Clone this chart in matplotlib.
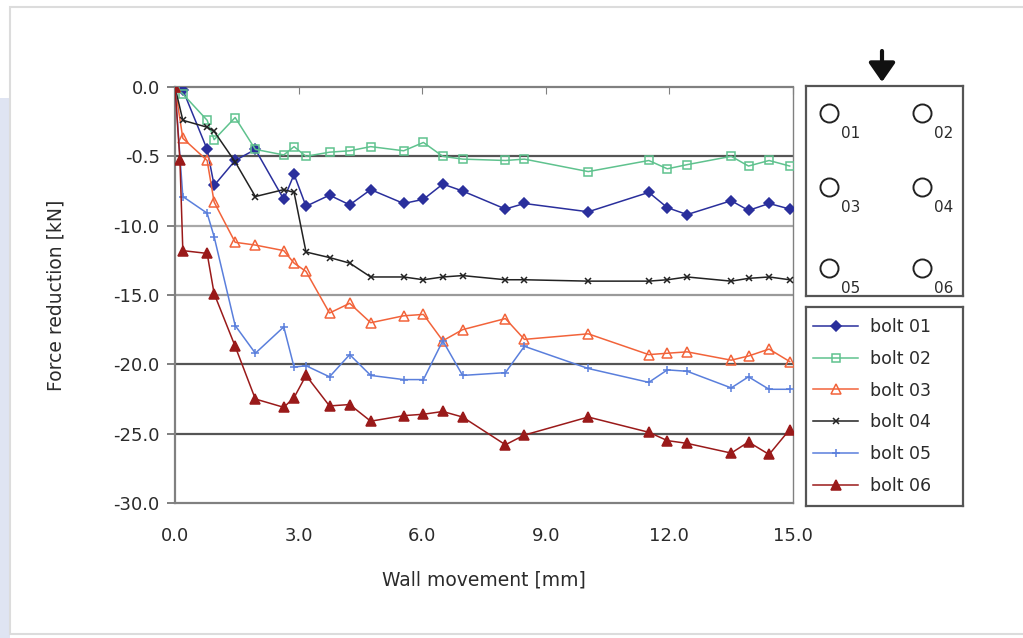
import matplotlib
matplotlib.use("Agg")
import matplotlib.pyplot as plt
from matplotlib.patches import Rectangle, FancyArrowPatch

# wall movement [mm] - common measuring positions
x_common = [0, 0.19, 0.78, 0.95, 1.46, 1.95, 2.64, 2.89, 3.18, 3.75, 4.24, 4.75, 5.55,
            6.03, 6.5, 6.98, 8.02, 8.48, 10.03, 11.5, 11.95, 12.43, 13.5, 13.92, 14.42, 14.92]
x_bolt06 = [0, 0.12] + x_common[1:]

bolt01 = [0, -0.2, -4.5, -7.1, -5.3, -4.5, -8.1, -6.3, -8.6, -7.8, -8.5, -7.4, -8.4,
          -8.1, -7.0, -7.5, -8.8, -8.4, -9.0, -7.6, -8.7, -9.2, -8.2, -8.9, -8.4, -8.8]
bolt02 = [0, -0.5, -2.4, -3.8, -2.2, -4.5, -4.9, -4.3, -5.0, -4.7, -4.6, -4.3, -4.6,
          -4.0, -5.0, -5.2, -5.3, -5.2, -6.1, -5.3, -5.9, -5.6, -5.0, -5.7, -5.3, -5.7]
bolt03 = [0, -3.7, -5.3, -8.3, -11.2, -11.4, -11.8, -12.7, -13.3, -16.3, -15.6, -17.0, -16.5,
          -16.4, -18.3, -17.5, -16.7, -18.2, -17.8, -19.3, -19.2, -19.1, -19.7, -19.4, -18.9, -19.8]
bolt04 = [0, -2.4, -2.9, -3.2, -5.4, -7.9, -7.4, -7.6, -11.9, -12.3, -12.7, -13.7, -13.7,
          -13.9, -13.7, -13.6, -13.9, -13.9, -14.0, -14.0, -13.9, -13.7, -14.0, -13.8, -13.7, -13.9]
bolt05 = [0, -7.9, -9.1, -10.8, -17.2, -19.2, -17.3, -20.2, -20.1, -20.9, -19.3, -20.8, -21.1,
          -21.1, -18.3, -20.8, -20.6, -18.7, -20.3, -21.3, -20.4, -20.5, -21.7, -20.9, -21.8, -21.8]
bolt06 = [0, -5.3, -11.8, -12.0, -14.9, -18.7, -22.5, -23.1, -22.4, -20.8, -23.0, -22.9, -24.1,
          -23.7, -23.6, -23.4, -23.8, -25.8, -25.1, -23.8, -24.9, -25.5, -25.7, -26.4, -25.6, -26.5, -24.7]

x_ticks = [0, 3, 6, 9, 12, 15]
x_ticklabels = ["0.0", "3.0", "6.0", "9.0", "12.0", "15.0"]
y_ticks = [0, -5, -10, -15, -20, -25, -30]
y_ticklabels = ["0.0", "-0.5", "-10.0", "-15.0", "-20.0", "-25.0", "-30.0"]
bolt_ids = ["01", "02", "03", "04", "05", "06"]

txt = "#2b2b2b"
axc = "#808080"
grid_colors = ["#555555", "#a8a8a8", "#9a9a9a", "#555555", "#555555"]

fig = plt.figure(figsize=(10.23, 6.38), dpi=100)
fig.patch.set_facecolor("white")

# page frame (drawn behind everything)
fig.patches.append(Rectangle((0, 0), 10 / 1023, 540 / 638, transform=fig.transFigure,
                             facecolor="#dfe4f2", edgecolor="none", zorder=-5))
fig.patches.append(Rectangle((10 / 1023, 4 / 638), 1.0, 627 / 638, transform=fig.transFigure,
                             facecolor="white", edgecolor="#dcdcdc", lw=1.5, zorder=-4))

ax = fig.add_axes([175 / 1023, 135 / 638, 618 / 1023, 416 / 638])
ax.set_facecolor("white")

series = [
    (x_common, bolt01, dict(color="#2a2f9c", marker="D", ms=5.5, mfc="#2a2f9c")),
    (x_common, bolt02, dict(color="#5fc28e", marker="s", ms=6, mfc="none")),
    (x_common, bolt03, dict(color="#f2633a", marker="^", ms=7, mfc="none")),
    (x_common, bolt04, dict(color="#222222", marker="x", ms=4)),
    (x_common, bolt05, dict(color="#5a7fdc", marker="+", ms=6)),
    (x_bolt06, bolt06, dict(color="#9a1a1a", marker="^", ms=7, mfc="#9a1a1a")),
]
handles = []
for (xs, ys, st), bid in zip(series, bolt_ids):
    h, = ax.plot(xs, ys, lw=1.1, mew=1.1, label="bolt " + bid, zorder=3, **st)
    handles.append(h)

for yv, gc in zip(y_ticks[1:-1], grid_colors):
    ax.axhline(yv, color=gc, lw=1.6, zorder=1)

ax.set_xlim(0, 15)
ax.set_ylim(-30, 0)
ax.set_xticks(x_ticks)
ax.set_xticklabels(x_ticklabels)
ax.set_yticks(y_ticks)
ax.set_yticklabels(y_ticklabels)
for s in ax.spines.values():
    s.set_color(axc)
    s.set_linewidth(1.6)
ax.spines["right"].set_linewidth(1.0)
ax.tick_params(axis="x", top=True, bottom=False, direction="in", length=5, color=axc,
               pad=17, labelsize=13, labelcolor=txt)
ax.tick_params(axis="y", direction="out", length=6, color=axc, width=1.4,
               pad=5, labelsize=13, labelcolor=txt)
ax.set_xlabel("Wall movement [mm]", fontsize=13.5, color=txt, labelpad=19)
ax.set_ylabel("Force reduction [kN]", fontsize=13.5, color=txt, labelpad=34)

# bolt layout sketch
dax = fig.add_axes([806 / 1023, 342 / 638, 157 / 1023, 210 / 638])
dax.set_xlim(0, 1)
dax.set_ylim(0, 1)
dax.set_xticks([])
dax.set_yticks([])
for s in dax.spines.values():
    s.set_color("#555555")
    s.set_linewidth(1.6)
cx = [0.146, 0.739]
cy = [0.871, 0.519, 0.133]
k = 0
for yy in cy:
    for xx in cx:
        dax.plot(xx, yy, marker="o", ms=13, mfc="none", mec="#222222", mew=1.4)
        dax.text(xx + 0.075, yy - 0.06, bolt_ids[k], fontsize=11, color=txt,
                 ha="left", va="top")
        k += 1

fig.add_artist(FancyArrowPatch(
    (882 / 1023, 587 / 638), (882 / 1023, 556 / 638), transform=fig.transFigure,
    arrowstyle="-|>,head_length=1.15,head_width=0.8", mutation_scale=10,
    shrinkA=0, shrinkB=0, lw=3, color="#111111"))

# legend box
lax = fig.add_axes([806 / 1023, 132 / 638, 157 / 1023, 199 / 638])
lax.set_xticks([])
lax.set_yticks([])
for s in lax.spines.values():
    s.set_color("#555555")
    s.set_linewidth(1.6)
lax.legend(handles=handles, loc="center left", frameon=False, fontsize=12.5,
           labelspacing=0.8, handlelength=2.6, handletextpad=0.7, borderaxespad=0,
           borderpad=0.4, labelcolor=txt)

fig.savefig("out.png", dpi=100)
